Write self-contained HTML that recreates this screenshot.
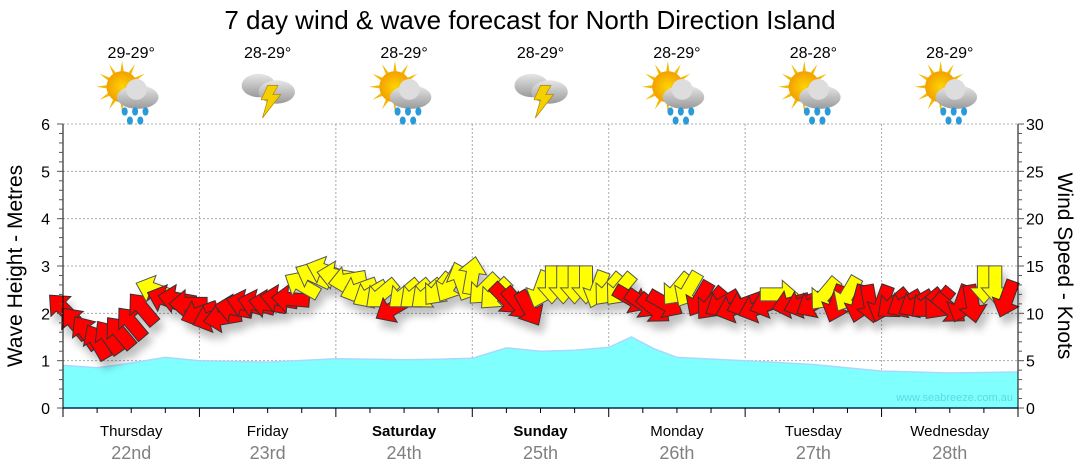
<!DOCTYPE html>
<html><head><meta charset="utf-8"><style>
body{margin:0;background:#fff;font-family:"Liberation Sans",sans-serif}
svg{display:block}
</style></head><body>
<svg id="c" width="1080" height="475">
<defs>
<filter id="sh" x="-50%" y="-50%" width="200%" height="200%"><feGaussianBlur in="SourceAlpha" stdDeviation="4"/><feOffset dx="4" dy="8"/><feComponentTransfer><feFuncA type="linear" slope="0.25"/></feComponentTransfer><feMerge><feMergeNode/><feMergeNode in="SourceGraphic"/></feMerge></filter>
<radialGradient id="sun"><stop offset="0" stop-color="#ffd400"/><stop offset="1" stop-color="#f2a000"/></radialGradient>
<linearGradient id="cl" x1="0" y1="0" x2="0" y2="1"><stop offset="0" stop-color="#e6e6e6"/><stop offset="1" stop-color="#9a9a9a"/></linearGradient>
</defs>
<text x="530" y="29" text-anchor="middle" font-size="26" fill="#000">7 day wind &amp; wave forecast for North Direction Island</text>
<g id="grid"></g><g id="wave"></g><g id="arrows" filter="url(#sh)"></g><g id="axes"></g><g id="hdr"></g>
<text x="1013" y="401" text-anchor="end" font-size="11" fill="#5fd8e0">www.seabreeze.com.au</text>
<text transform="translate(22,266) rotate(-90)" text-anchor="middle" font-size="21">Wave Height - Metres</text>
<text transform="translate(1058,266) rotate(90)" text-anchor="middle" font-size="21">Wind Speed - Knots</text>
</svg>
<script>
const days=["Thursday","Friday","Saturday","Sunday","Monday","Tuesday","Wednesday"];
const dates=["22nd","23rd","24th","25th","26th","27th","28th"];
const boldDays=[false,false,true,true,false,false,false];
const temps=["29-29°","28-29°","28-29°","28-29°","28-29°","28-28°","28-29°"];
const icons=["rain","storm","rain","storm","rain","rain","rain"];
const waveHours=[0,6,12,18,24,36,48,60,66,72,78,84,90,96,100,104,108,120,132,144,156,168];
const waveM=[0.9,0.85,0.95,1.07,1.0,0.97,1.04,1.02,1.03,1.05,1.27,1.2,1.22,1.28,1.5,1.25,1.07,1.0,0.92,0.78,0.74,0.76];
const windHours=[0,2,4,6,8,10,12,14,16,18,20,22,24,26,28,30,32,34,36,38,40,42,44,46,48,50,52,54,56,58,60,62,64,66,68,70,72,74,76,78,80,82,84,86,88,90,92,94,96,98,100,102,104,106,108,110,112,114,116,118,120,122,124,126,128,130,132,134,136,138,140,142,144,146,148,150,152,154,156,158,160,162,164,166];
const windKn=[10.5,9,8,7,7.5,8,9,10.5,12.5,11.5,11.5,11,10,9.5,9.5,10.5,11,11,11,11.5,11.5,13,14,14.5,14,13.5,12.5,12,12,10.5,12,12,12,12.5,13,13.5,14,12.5,12,11.5,11,10.5,12.5,13,13,13,13,12.5,12.5,12.5,11.5,11,10.5,11,12.5,12.5,11.5,11,11,10.5,11,10.5,11,12,11,11,11,12,11,12,11,11,11,11,11,11,11,11,10.5,11,11,13,13,11.5];
const windDir=[225,230,235,240,235,230,230,230,200,200,190,180,160,160,170,190,195,195,190,190,185,210,205,200,190,170,160,150,140,150,140,140,140,130,120,250,280,135,135,45,50,60,110,90,90,90,90,110,130,130,30,35,40,30,130,120,120,130,150,160,160,160,160,0,165,160,150,130,110,120,105,80,110,140,150,150,140,130,40,110,80,90,90,110];
const windYellow=[0,0,0,0,0,0,0,0,1,0,0,0,0,0,0,0,0,0,0,0,0,1,1,1,1,1,1,1,1,0,1,1,1,1,1,1,1,1,1,0,0,0,1,1,1,1,1,1,1,1,0,0,0,0,1,1,0,0,0,0,0,0,0,1,0,0,0,1,0,1,0,0,0,0,0,0,0,0,0,0,0,1,1,0];
const waveTicks=[0,1,2,3,4,5,6];
const windTicks=[0,5,10,15,20,25,30];

const X0=63,X1=1018,Y0=408,Y1=124;
const xH=h=>X0+h*(X1-X0)/168;
const yM=m=>Y0-m*(Y0-Y1)/6;
const yK=k=>Y0-k*(Y0-Y1)/30;
const NS="http://www.w3.org/2000/svg";
function mk(tag,attrs,parent){const e=document.createElementNS(NS,tag);for(const k in attrs)e.setAttribute(k,attrs[k]);parent.appendChild(e);return e;}
const G=id=>document.getElementById(id);

for(const m of waveTicks){if(m===0)continue;const l=mk('line',{x1:X0,x2:X1,y1:yM(m),y2:yM(m),stroke:'#aaa','stroke-dasharray':'2,2'},G('grid'));

}
for(let d=1;d<7;d++){const l=mk('line',{x1:xH(d*24),x2:xH(d*24),y1:Y1,y2:Y0,stroke:'#aaa','stroke-dasharray':'2,2'},G('grid'));

}

let p=`M${X0},${Y0}`;waveHours.forEach((h,i)=>p+=` L${xH(h).toFixed(1)},${yM(waveM[i]).toFixed(1)}`);p+=` L${X1},${Y0} Z`;
const wa=mk('path',{d:p,fill:'#80ffff',stroke:'none'},G('wave'));


let lp='';waveHours.forEach((h,i)=>lp+=(i?' L':'M')+xH(h).toFixed(1)+','+yM(waveM[i]).toFixed(1));
mk('path',{d:lp,fill:'none',stroke:'#a8d8ff','stroke-width':1.5},G('wave'));

windHours.forEach((h,i)=>{const x=xH(h),y=yK(windKn[i]);
const a=mk('polygon',{points:'-19,-6.5 3,-6.5 3,-14 19,0 3,14 3,6.5 -19,6.5',transform:`translate(${x.toFixed(1)},${y.toFixed(1)}) rotate(${windDir[i]})`,fill:windYellow[i]?'#ffff00':'#ff0000',stroke:windYellow[i]?'#555':'#333','stroke-width':1},G('arrows'));

});

const ax=G('axes');
mk('line',{x1:X0,x2:X1,y1:Y0,y2:Y0,stroke:'#0a2a55','stroke-width':1.5},ax);
mk('line',{x1:X0,x2:X0,y1:Y1,y2:Y0,stroke:'#000'},ax);
mk('line',{x1:X1,x2:X1,y1:Y1,y2:Y0,stroke:'#000'},ax);
for(let m=0;m<=6.001;m+=0.2){const y=yM(m);mk('line',{x1:X0-(Math.abs(m-Math.round(m))<0.01?6:4),x2:X0,y1:y,y2:y,stroke:'#555'},ax);}
for(let k=0;k<=30;k++){const y=yK(k);mk('line',{x1:X1,x2:X1+(k%5===0?6:4),y1:y,y2:y,stroke:'#555'},ax);}
waveTicks.forEach(m=>{const t=mk('text',{x:50,y:yM(m)+6,'text-anchor':'end','font-size':16},ax);t.textContent=m;

});
windTicks.forEach(k=>{const t=mk('text',{x:1026,y:yK(k)+6,'font-size':16},ax);t.textContent=k;

});
for(let h=0;h<=168;h+=6){const x=xH(h);mk('line',{x1:x,x2:x,y1:Y0,y2:Y0+(h%24===0?9:5),stroke:'#000'},ax);}
days.forEach((d,i)=>{const x=xH(i*24+12);
const t=mk('text',{x:x,y:436,'text-anchor':'middle','font-size':15,'font-weight':boldDays[i]?'bold':'normal'},ax);t.textContent=d;


const t2=mk('text',{x:x,y:459,'text-anchor':'middle','font-size':18,fill:'#808080'},ax);t2.textContent=dates[i];

});

const hd=G('hdr');
days.forEach((d,i)=>{const x=xH(i*24+12);
const t=mk('text',{x:x,y:58,'text-anchor':'middle','font-size':16},hd);t.textContent=temps[i];


const g=mk('g',{transform:`translate(${x},92) scale(1.3)`},hd);


if(icons[i]==='rain'){
 for(let a=0;a<360;a+=30)mk('polygon',{points:'-3,0 3,0 0,-20',fill:'#f5b800',transform:`translate(-7,-4) rotate(${a})`},g);
 mk('circle',{cx:-7,cy:-4,r:12,fill:'url(#sun)'},g);
 mk('ellipse',{cx:5,cy:4,rx:16,ry:9,fill:'url(#cl)'},g);
 mk('circle',{cx:4,cy:-2,r:8,fill:'#ddd'},g);
 [[-5,15],[3,15],[11,15],[-1,22],[7,22]].forEach(q=>mk('ellipse',{cx:q[0],cy:q[1],rx:2.3,ry:3.2,fill:'#2a9ad8'},g));
}else{
 mk('ellipse',{cx:-7,cy:-5,rx:13,ry:9,fill:'url(#cl)'},g);
 mk('ellipse',{cx:7,cy:0,rx:14,ry:9,fill:'url(#cl)'},g);
 mk('polygon',{points:'0,-5 8,-5 4,2 10,2 -4,20 0,6 -5,6',fill:'#f5d000',stroke:'#b08000','stroke-width':0.5},g);
}});
</script>
</body></html>
